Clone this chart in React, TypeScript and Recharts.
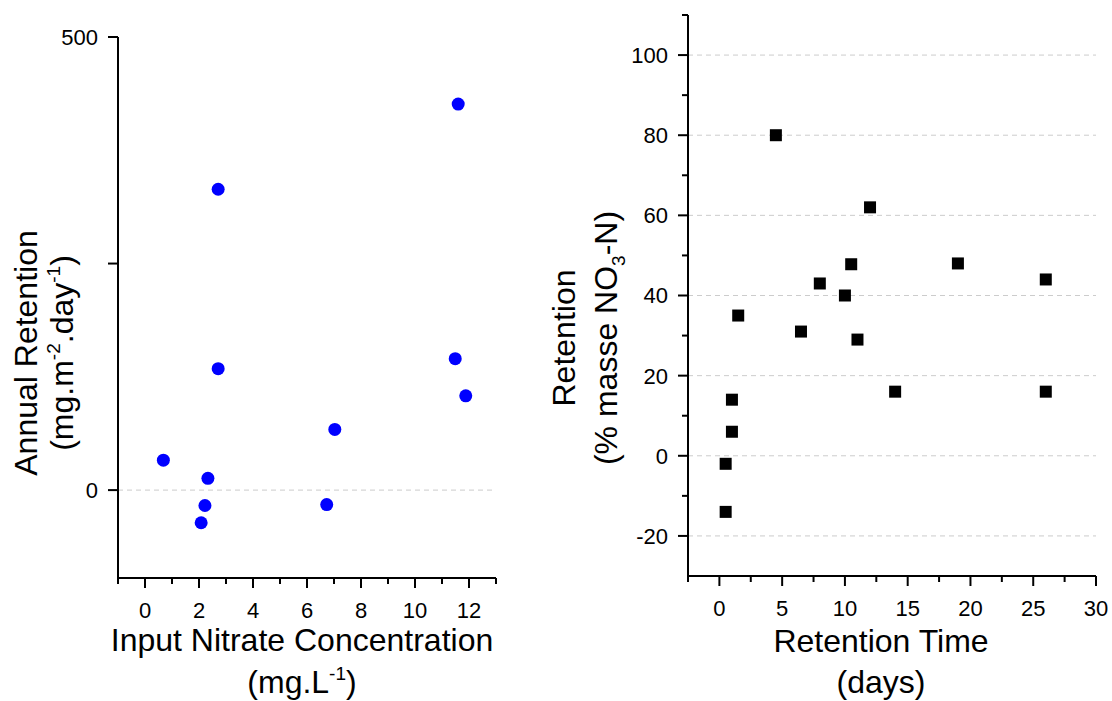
import React from 'react';
import { ScatterChart, Scatter, XAxis, YAxis, ReferenceLine, Label } from 'recharts';

// Left panel: input nitrate concentration vs annual retention
const nitrateConc = [0.68, 2.71, 2.71, 11.6, 11.49, 11.88, 7.03, 2.33, 2.22, 2.08, 6.73];
const annualRetention = [33, 332, 134, 426, 145, 104, 67, 13, -17, -36, -16];

// Right panel: retention time vs retention (%)
const retentionTime = [0.5, 0.5, 1, 1, 1.5, 4.5, 6.5, 8, 10, 10.5, 11, 12, 14, 19, 26, 26];
const retentionPct = [-14, -2, 6, 14, 35, 80, 31, 43, 40, 47.8, 29, 62, 16, 48, 44, 16];

// Tick definitions
const leftXTicks = [-1, 0, 1, 2, 3, 4, 5, 6, 7, 8, 9, 10, 11, 12, 13];
const leftXMajor = [0, 2, 4, 6, 8, 10, 12];
const leftYTicks = [0, 250, 500];
const leftYMajor = [0, 250, 500];
const leftYLabeled = [0, 500];
const rightXTicks = [-2.5, 0, 2.5, 5, 7.5, 10, 12.5, 15, 17.5, 20, 22.5, 25, 27.5, 30];
const rightXMajor = [0, 5, 10, 15, 20, 25, 30];
const rightYTicks = [-20, -10, 0, 10, 20, 30, 40, 50, 60, 70, 80, 90, 100, 110];
const rightYMajor = [-20, 0, 20, 40, 60, 80, 100];
const rightGrid = [-20, 0, 20, 40, 60, 80, 100];

const FONT = '"Liberation Sans", Arial, sans-serif';
const TICK_FS = 22;
const TITLE_FS = 32;
const RIGHT_OFFSET = 520;

const xTick = (majors: number[]) => (props: any) => {
  const { x, y, payload } = props;
  const v = payload.value;
  const major = majors.includes(v);
  return (
    <g>
      <line x1={x} y1={y} x2={x} y2={y + (major ? 10 : 6)} stroke="#000" strokeWidth={2} />
      {major && (
        <text x={x} y={y + 40} textAnchor="middle" fontSize={TICK_FS} fontFamily={FONT} fill="#000">
          {v}
        </text>
      )}
    </g>
  );
};

const yTick = (majors: number[], labeled: number[]) => (props: any) => {
  const { x, y, payload } = props;
  const v = payload.value;
  const major = majors.includes(v);
  return (
    <g>
      <line x1={x} y1={y} x2={x - (major ? 10 : 6)} y2={y} stroke="#000" strokeWidth={2} />
      {labeled.includes(v) && (
        <text x={x - 20} y={y} dy="0.36em" textAnchor="end" fontSize={TICK_FS} fontFamily={FONT} fill="#000">
          {v}
        </text>
      )}
    </g>
  );
};

const circleShape = (props: any) => <circle cx={props.cx} cy={props.cy} r={6.5} fill="#0000ff" />;
const squareShape = (props: any) => (
  <rect x={props.cx - 6} y={props.cy - 6} width={12} height={12} fill="#000" />
);

const leftData = nitrateConc.map((x, i) => ({ x, y: annualRetention[i] }));
const rightData = retentionTime.map((x, i) => ({ x, y: retentionPct[i] }));

const LeftXTitle = (props: any) => {
  const vb = props.viewBox;
  const cx = vb.x + vb.width / 2 - 5;
  return (
    <g fontFamily={FONT} fill="#000">
      <text x={cx} y={651} textAnchor="middle" fontSize={TITLE_FS}>Input Nitrate Concentration</text>
      <text x={cx} y={693} textAnchor="middle" fontSize={TITLE_FS}>
        <tspan>(mg.L</tspan>
        <tspan dy={-13} fontSize={19}>-1</tspan>
        <tspan dy={13}>)</tspan>
      </text>
    </g>
  );
};

const LeftYTitle = () => {
  const cy = 353;
  return (
    <g fontFamily={FONT} fill="#000">
      <text x={37} y={cy} transform={`rotate(-90, 37, ${cy})`} textAnchor="middle" fontSize={TITLE_FS}>
        Annual Retention
      </text>
      <text x={73} y={cy} transform={`rotate(-90, 73, ${cy})`} textAnchor="middle" fontSize={TITLE_FS}>
        <tspan>(mg.m</tspan>
        <tspan dy={-13} fontSize={19}>-2</tspan>
        <tspan dy={13}>.day</tspan>
        <tspan dy={-13} fontSize={19}>-1</tspan>
        <tspan dy={13}>)</tspan>
      </text>
    </g>
  );
};

const RightXTitle = (props: any) => {
  const vb = props.viewBox;
  const cx = vb.x + vb.width / 2 - 11;
  return (
    <g fontFamily={FONT} fill="#000">
      <text x={cx} y={652} textAnchor="middle" fontSize={TITLE_FS}>Retention Time</text>
      <text x={cx} y={693} textAnchor="middle" fontSize={TITLE_FS}>(days)</text>
    </g>
  );
};

const RightYTitle = () => {
  const cy = 338;
  const b1 = 575 - RIGHT_OFFSET;
  const b2 = 617 - RIGHT_OFFSET;
  return (
    <g fontFamily={FONT} fill="#000">
      <text x={b1} y={cy} transform={`rotate(-90, ${b1}, ${cy})`} textAnchor="middle" fontSize={TITLE_FS}>
        Retention
      </text>
      <text x={b2} y={cy} transform={`rotate(-90, ${b2}, ${cy})`} textAnchor="middle" fontSize={TITLE_FS}>
        <tspan>(% masse NO</tspan>
        <tspan dy={8} fontSize={19}>3</tspan>
        <tspan dy={-8}>-N)</tspan>
      </text>
    </g>
  );
};

export default function App() {
  return (
    <div style={{ position: 'absolute', left: 0, top: 0, width: 1112, height: 701, background: '#fff' }}>
      <div style={{ position: 'absolute', left: 0, top: 0 }}>
        <ScatterChart width={520} height={701} margin={{ top: 37, right: 24, bottom: 63, left: 58 }}>
          <XAxis
            type="number"
            dataKey="x"
            domain={[-1, 13]}
            ticks={leftXTicks}
            interval={0}
            height={60}
            tickSize={0}
            tickMargin={0}
            tickLine={false}
            axisLine={{ stroke: '#000', strokeWidth: 2 }}
            tick={xTick(leftXMajor)}
            allowDataOverflow
          >
            <Label content={<LeftXTitle />} />
          </XAxis>
          <YAxis
            type="number"
            dataKey="y"
            domain={[-97, 500]}
            ticks={leftYTicks}
            interval={0}
            width={60}
            tickSize={0}
            tickMargin={0}
            tickLine={false}
            axisLine={{ stroke: '#000', strokeWidth: 2 }}
            tick={yTick(leftYMajor, leftYLabeled)}
            allowDataOverflow
          >
            <Label content={<LeftYTitle />} />
          </YAxis>
          <ReferenceLine y={0} stroke="#cccccc" strokeDasharray="5 4" strokeWidth={1} />
          <Scatter data={leftData} shape={circleShape} isAnimationActive={false} />
        </ScatterChart>
      </div>
      <div style={{ position: 'absolute', left: RIGHT_OFFSET, top: 0 }}>
        <ScatterChart width={592} height={701} margin={{ top: 15, right: 16, bottom: 65, left: 108 }}>
          <XAxis
            type="number"
            dataKey="x"
            domain={[-2.5, 30]}
            ticks={rightXTicks}
            interval={0}
            height={60}
            tickSize={0}
            tickMargin={0}
            tickLine={false}
            axisLine={{ stroke: '#000', strokeWidth: 2 }}
            tick={xTick(rightXMajor)}
            allowDataOverflow
          >
            <Label content={<RightXTitle />} />
          </XAxis>
          <YAxis
            type="number"
            dataKey="y"
            domain={[-30, 110]}
            ticks={rightYTicks}
            interval={0}
            width={60}
            tickSize={0}
            tickMargin={0}
            tickLine={false}
            axisLine={{ stroke: '#000', strokeWidth: 2 }}
            tick={yTick(rightYMajor, rightYMajor)}
            allowDataOverflow
          >
            <Label content={<RightYTitle />} />
          </YAxis>
          {rightGrid.map((g) => (
            <ReferenceLine key={g} y={g} stroke="#cccccc" strokeDasharray="5 4" strokeWidth={1} />
          ))}
          <Scatter data={rightData} shape={squareShape} isAnimationActive={false} />
        </ScatterChart>
      </div>
    </div>
  );
}
